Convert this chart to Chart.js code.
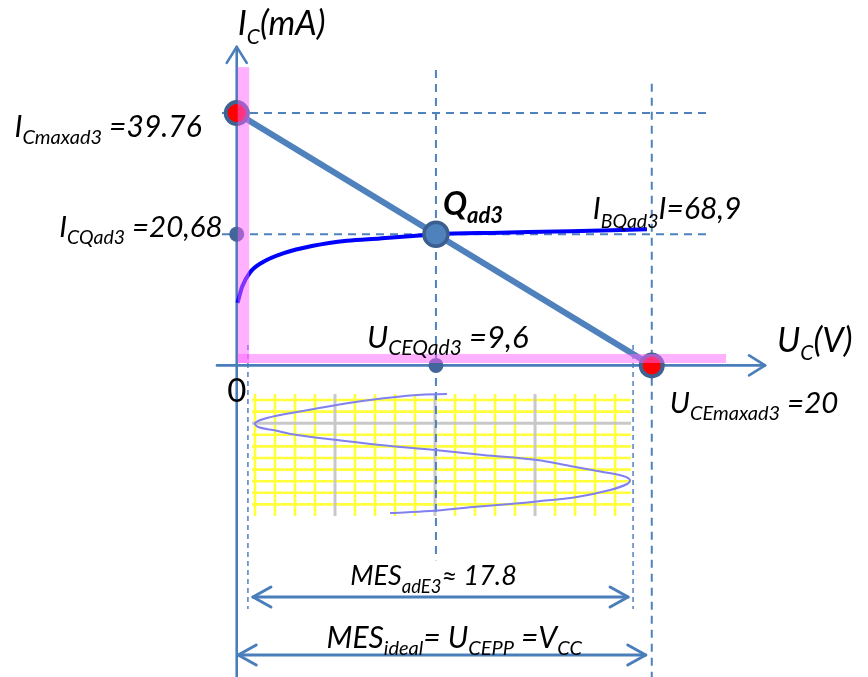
<!DOCTYPE html>
<html><head><meta charset="utf-8">
<script src="https://cdn.jsdelivr.net/npm/chart.js@4/dist/chart.umd.min.js"></script>
<style>html,body{margin:0;padding:0;background:#fff;}#wrap{width:868px;height:677px;position:relative;}</style>
</head><body><div id="wrap"><canvas id="c"></canvas></div>
<script>
// ---- values (V, mA) ----
const VCC = 20;          // U_CEmaxad3
const ICMAX = 39.76;     // I_Cmaxad3
const UCEQ = 9.6;        // U_CEQad3
const ICQ = 20.68;       // I_CQad3
const loadLineU = [0, 20];
const loadLineI = [39.76, 0];
const ibCurveU = [0.04, 0.26, 0.64, 1.27, 2.23, 3.68, 5.31, 6.91, 8.98, 9.6, 12.69, 16.07, 19.77];
const ibCurveI = [9.85, 12.4, 14.65, 16.3, 17.65, 18.85, 19.65, 20.0, 20.5, 20.68, 20.91, 21.15, 21.46];
// swing of U_CE (oscilloscope-like trace under the axis; vertical = time)
const scopeU = [10.13, 8.69, 6.42, 4.83, 2.91, 1.46, 0.88, 1.03, 1.75, 2.91, 4.83, 6.91, 9.56, 11.87, 14.47, 16.06, 17.65, 18.62, 18.95, 18.81, 17.99, 16.40, 14.62, 13.17, 11.39, 9.31, 7.39];
const scopeT = [-4.51, -4.66, -5.45, -6.24, -7.34, -8.29, -9.08, -9.71, -10.18, -10.97, -11.76, -12.54, -13.33, -14.12, -14.91, -15.85, -16.80, -17.43, -18.06, -18.69, -19.64, -20.74, -21.37, -21.84, -22.31, -22.94, -23.26];
const mesAdLimits = [0.54, 19.1];   // MES_adE3 ≈ 17.8 swing limits
const labels = {
  yAxis: ['I', 'C', '(mA)'],
  xAxis: ['U', 'C', '(V)'],
  icmax: ['I', 'Cmaxad3', ' =39.76'],
  icq: ['I', 'CQad3', ' =20,68'],
  q: ['Q', 'ad3'],
  ibq: ['I', 'BQad3', 'I=68,9'],
  uceq: ['U', 'CEQad3', ' =9,6'],
  ucemax: ['U', 'CEmaxad3', ' =20'],
  mesAd: ['MES', 'adE3', '≈ 17.8'],
  mesIdeal: ['MES', 'ideal', '= U', 'CEPP', ' =V', 'CC'],
  zero: '0'
};

const BLUE = '#4f81bd';
const FAM = "Lato, 'Open Sans', sans-serif";

function pts(xs, ys){ return xs.map((x,i)=>({x:x, y:ys[i]})); }

function rich(ctx, x, y, parts, kinds, o){
  const st = o.italic===false ? '' : 'italic ';
  const wt = o.bold ? 'bold ' : '';
  const fm = st+wt+o.m+'px '+FAM, fs = st+wt+o.s+'px '+FAM;
  let w=0; const ws=[];
  parts.forEach((t,i)=>{ ctx.font = kinds[i]==='s'?fs:fm; const m=ctx.measureText(t).width; ws.push(m); w+=m; });
  let cx = o.align==='right' ? x-w : (o.align==='center' ? x-w/2 : x);
  ctx.fillStyle='#000'; ctx.textBaseline='alphabetic'; ctx.textAlign='left';
  parts.forEach((t,i)=>{ ctx.font = kinds[i]==='s'?fs:fm; ctx.fillText(t, cx, y+(kinds[i]==='s'?o.dy:0)); cx+=ws[i]; });
}
function chevron(ctx, tx, ty, dx, dy, len, half){
  const nx=-dy, ny=dx;
  ctx.beginPath();
  ctx.moveTo(tx-dx*len+nx*half, ty-dy*len+ny*half);
  ctx.lineTo(tx, ty);
  ctx.lineTo(tx-dx*len-nx*half, ty-dy*len-ny*half);
  ctx.stroke();
}

const decor = {
  id:'decor',
  beforeDatasetsDraw(chart){
    const ctx=chart.ctx, X=chart.scales.x, Y=chart.scales.y;
    const px=v=>X.getPixelForValue(v), py=v=>Y.getPixelForValue(v);
    ctx.save();
    // oscilloscope grid
    const gx0=px(0.74), gx1=px(19.0), gy0=py(-4.51), gy1=py(-23.73);
    ctx.lineWidth=2.6; ctx.strokeStyle='#ffff3a';
    for(let k=0;k<19;k++){
      if(k===4||k===9||k===14) continue;
      const x=px(0.88+0.964*k);
      ctx.beginPath(); ctx.moveTo(x,gy0); ctx.lineTo(x,gy1); ctx.stroke();
    }
    for(let k=0;k<10;k++){
      if(k===2) continue;
      const y=py(-5.45-1.828*k);
      ctx.beginPath(); ctx.moveTo(gx0,y); ctx.lineTo(gx1,y); ctx.stroke();
    }
    ctx.strokeStyle='#c8c8c8'; ctx.lineWidth=3;
    [4,9,14].forEach(k=>{const x=px(0.88+0.964*k); ctx.beginPath(); ctx.moveTo(x,gy0); ctx.lineTo(x,gy1); ctx.stroke();});
    {const y=py(-5.45-1.828*2); ctx.beginPath(); ctx.moveTo(gx0,y); ctx.lineTo(gx1,y); ctx.stroke();}

    // dashed guide lines
    ctx.strokeStyle=BLUE; ctx.lineWidth=2; ctx.setLineDash([8,6]);
    const hl=(yv,a,b)=>{ctx.beginPath(); ctx.moveTo(px(a),py(yv)); ctx.lineTo(px(b),py(yv)); ctx.stroke();};
    const vl=(xv,a,b)=>{ctx.beginPath(); ctx.moveTo(px(xv),py(a)); ctx.lineTo(px(xv),py(b)); ctx.stroke();};
    hl(ICMAX,-0.71,22.62); hl(ICQ,-0.71,22.62);
    vl(UCEQ,46.55,-30.7); vl(VCC,44.4,-49.1);
    ctx.lineWidth=1.5; ctx.setLineDash([5,4]);
    vl(mesAdLimits[0],3.2,-38.4); vl(mesAdLimits[1],3.2,-38.4);
    ctx.setLineDash([]);

    // axes
    ctx.strokeStyle='#4a7ebb'; ctx.lineWidth=2.6; ctx.lineCap='round'; ctx.lineJoin='round';
    ctx.beginPath(); ctx.moveTo(px(0),py(-49.1)); ctx.lineTo(px(0),py(50.2)); ctx.stroke();
    chevron(ctx, px(0), py(50.2), 0, -1, 16, 10);
    ctx.beginPath(); ctx.moveTo(px(-0.95),py(0)); ctx.lineTo(px(25.46),py(0)); ctx.stroke();
    chevron(ctx, px(25.46), py(0), 1, 0, 16, 10);

    // dimension arrows
    ctx.lineWidth=3;
    const yA=py(-36.5), a0=px(mesAdLimits[0])+5, a1=px(mesAdLimits[1])-5;
    ctx.beginPath(); ctx.moveTo(a0,yA); ctx.lineTo(a1,yA); ctx.stroke();
    chevron(ctx,a0,yA,-1,0,18,10); chevron(ctx,a1,yA,1,0,18,10);
    const yB=py(-45.64), b0=px(0)+1.5, b1=px(VCC)-6;
    ctx.beginPath(); ctx.moveTo(b0,yB); ctx.lineTo(b1,yB); ctx.stroke();
    chevron(ctx,b0,yB,-1,0,18,10); chevron(ctx,b1,yB,1,0,18,10);
    ctx.restore();
  },
  afterDatasetsDraw(chart){
    const ctx=chart.ctx, X=chart.scales.x, Y=chart.scales.y;
    const px=v=>X.getPixelForValue(v), py=v=>Y.getPixelForValue(v);
    ctx.save();
    // pink translucent bands
    ctx.fillStyle='rgba(255,100,255,0.5)';
    ctx.fillRect(px(0.05), py(47.0), px(0.6)-px(0.05), py(0.38)-py(47.0));
    ctx.fillRect(px(0.05), py(1.8), px(23.58)-px(0.05), py(0.38)-py(1.8));

    // texts
    const L=labels;
    rich(ctx, px(0)+1, py(50.2)-12, L.yAxis, ['m','s','m'], {m:34,s:21,dy:9});
    rich(ctx, px(0)-35, py(ICMAX)+24, L.icmax, ['m','s','m'], {m:30,s:20,dy:7,align:'right'});
    rich(ctx, px(0)-14, py(ICQ)+3, L.icq, ['m','s','m'], {m:29.5,s:19.5,dy:7,align:'right'});
    rich(ctx, px(UCEQ)+7, py(ICQ)-19, L.q, ['m','s'], {m:32,s:22,dy:8,bold:true});
    rich(ctx, px(VCC)-59, py(ICQ)-15, L.ibq, ['m','s','m'], {m:30,s:19.5,dy:9});
    rich(ctx, px(UCEQ)-69, py(0)-17, L.uceq, ['m','s','m'], {m:31,s:21,dy:7});
    rich(ctx, px(25.46)+12, py(0)-13, L.xAxis, ['m','s','m'], {m:34,s:21,dy:8});
    rich(ctx, px(VCC)+18, py(0)+48, L.ucemax, ['m','s','m'], {m:29.5,s:20,dy:7});
    rich(ctx, px(0), py(0)+37, [L.zero], ['m'], {m:33,s:20,dy:0,italic:false,align:'center'});
    rich(ctx, (px(mesAdLimits[0])+px(mesAdLimits[1]))/2-7, py(-36.5)-12, L.mesAd, ['m','s','m'], {m:27,s:18.5,dy:8,align:'center'});
    rich(ctx, (px(0)+px(VCC))/2+10, py(-45.64)-7, L.mesIdeal, ['m','s','m','s','m','s'], {m:30,s:20,dy:7,align:'center'});
    ctx.restore();
  }
};

new Chart(document.getElementById('c'), {
  type:'scatter',
  data:{ datasets:[
    {label:'I_CQ / U_CEQ', data:[{x:0,y:ICQ},{x:UCEQ,y:0}], showLine:false, pointRadius:7.5,
      pointBackgroundColor:'#42659a', pointBorderWidth:0, order:2},
    {label:'Q', data:[{x:UCEQ,y:ICQ}], showLine:false, pointRadius:12, pointBackgroundColor:'#4f81bd',
      pointBorderColor:'#3a5f8f', pointBorderWidth:3.5, order:1},
    {label:'limits', data:[{x:0,y:ICMAX},{x:VCC,y:0}], showLine:false, pointRadius:11,
      pointBackgroundColor:'#ff0000', pointBorderColor:'#3f6290', pointBorderWidth:4, order:1},
    {label:'load line', data:pts(loadLineU, loadLineI), showLine:true, borderColor:BLUE, borderWidth:6,
      pointRadius:0, order:3},
    {label:'I_BQ', data:pts(ibCurveU, ibCurveI), showLine:true, borderColor:'#0000ff', borderWidth:4,
      pointRadius:0, cubicInterpolationMode:'monotone', order:4},
    {label:'scope', data:pts(scopeU, scopeT), showLine:true, borderColor:'#8080f0', borderWidth:2,
      pointRadius:0, tension:0.35, order:6}
  ]},
  options:{
    responsive:true, maintainAspectRatio:false, animation:false, events:[],
    layout:{padding:0, autoPadding:false},
    plugins:{legend:{display:false}, tooltip:{enabled:false}},
    scales:{
      x:{type:'linear', min:-11.407, max:30.42, display:false},
      y:{type:'linear', min:-49.10, max:57.58, display:false}
    }
  },
  plugins:[decor]
});
</script>
</body></html>
